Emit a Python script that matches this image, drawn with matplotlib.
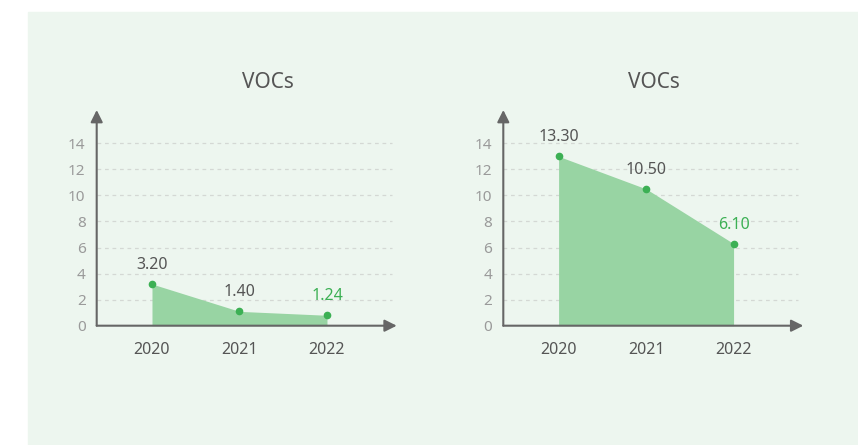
import matplotlib.pyplot as plt
from matplotlib.patches import Rectangle

plt.rcParams["font.family"] = ["Noto Sans", "DejaVu Sans"]

# data
years = ["2020", "2021", "2022"]
left_values = [3.2, 1.1, 0.8]
left_labels = ["3.20", "1.40", "1.24"]
right_values = [13.0, 10.5, 6.3]
right_labels = ["13.30", "10.50", "6.10"]
y_ticks = [0, 2, 4, 6, 8, 10, 12, 14]
title = "VOCs"

W, H = 858, 445
FILL = "#98d4a3"
DOT = "#3cb054"
AXIS = "#666666"
TEXT = "#555555"
TICK = "#9a9a9a"

fig = plt.figure(figsize=(W / 100, H / 100), dpi=100)
fig.patches.append(Rectangle((28 / W, 0), 1 - 28 / W, 1 - 12 / H,
                             transform=fig.transFigure, color="#edf6ef", zorder=-10))


def panel(left_px, values, labels, title_x):
    # axes box: from y axis to arrow tip, baseline to top arrow
    bottom_px, top_px, width_px = 325.7, 110, 300
    ax = fig.add_axes([left_px / W, 1 - bottom_px / H, width_px / W, (bottom_px - top_px) / H])
    ax.set_facecolor("none")
    unit = 13.03  # px per data unit
    ax.set_ylim(0, (bottom_px - top_px) / unit)
    ax.set_xlim(-0.632, 2.797)
    for s in ax.spines.values():
        s.set_visible(False)

    x = list(range(len(years)))
    ax.hlines(y_ticks[1:], -0.632, 2.74, colors="#d4d8d4", linestyles=(0, (3, 3)), linewidth=0.9, zorder=1)
    ax.fill_between(x, values, 0, color=FILL, linewidth=0, zorder=2)
    ax.plot(x, values, "o", color=DOT, markersize=4.5, zorder=4)

    for i, (v, lab) in enumerate(zip(values, labels)):
        col = DOT if i == len(values) - 1 else TEXT
        ax.annotate(lab, (i, v), xytext=(0, 19), textcoords="offset pixels",
                    ha="center", va="center", fontsize=11.5, color=col)

    # arrowed axes
    arrow = dict(arrowstyle="-|>", color=AXIS, lw=1.5, mutation_scale=18, shrinkA=0, shrinkB=0)
    ax.annotate("", xy=(0, 1), xytext=(0, 0), xycoords="axes fraction", arrowprops=arrow)
    ax.annotate("", xy=(1, 0), xytext=(0, 0), xycoords="axes fraction", arrowprops=arrow)

    ax.set_yticks(y_ticks)
    ax.set_yticklabels([str(t) for t in y_ticks], color=TICK, fontsize=11)
    ax.set_xticks(x)
    ax.set_xticklabels(years, color=TEXT, fontsize=11.5)
    ax.tick_params(axis="y", length=0, pad=8)
    ax.tick_params(axis="x", length=0, pad=12)

    fig.text(title_x / W, 1 - 83 / H, title, ha="center", va="center", fontsize=15, color=TEXT)
    return ax


panel(96.7, left_values, left_labels, 268)
panel(503.3, right_values, right_labels, 654)

fig.savefig("out.png", dpi=100, facecolor="white")
